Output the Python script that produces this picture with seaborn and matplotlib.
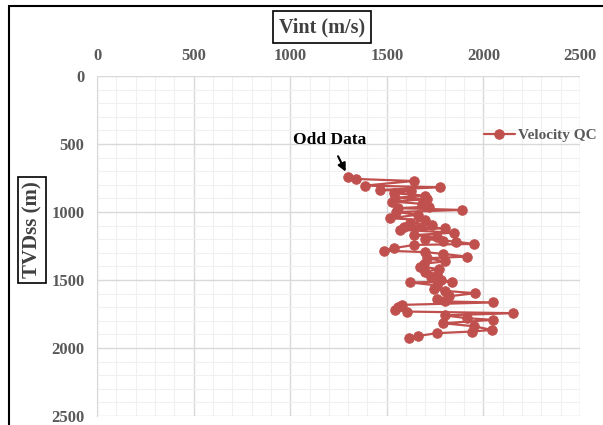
import matplotlib
matplotlib.use("Agg")
import matplotlib.pyplot as plt
import seaborn as sns
import pandas as pd
from matplotlib.patches import Rectangle
from matplotlib.ticker import MultipleLocator

depth = [740, 757, 772, 806, 818, 838, 845, 862, 880, 895, 906, 923, 940, 960, 972,
         985, 1000, 1020, 1046, 1060, 1083, 1095, 1110, 1120, 1131, 1152, 1170, 1185,
         1198, 1210, 1218, 1235, 1242, 1266, 1284, 1295, 1308, 1328, 1340, 1363, 1380,
         1401, 1420, 1440, 1460, 1480, 1500, 1512, 1518, 1540, 1568, 1580, 1597, 1620,
         1640, 1658, 1665, 1683, 1700, 1720, 1732, 1744, 1760, 1781, 1793, 1818, 1840,
         1867, 1879, 1891, 1911, 1928]
vint = [1300, 1340, 1640, 1385, 1777, 1463, 1624, 1535, 1700, 1545, 1708, 1526, 1680,
        1716, 1560, 1889, 1550, 1660, 1518, 1700, 1621, 1733, 1590, 1803, 1570, 1846,
        1640, 1760, 1699, 1790, 1857, 1950, 1642, 1535, 1483, 1700, 1790, 1915, 1708,
        1803, 1690, 1673, 1770, 1700, 1760, 1730, 1780, 1838, 1621, 1760, 1744, 1800,
        1958, 1820, 1760, 1803, 2051, 1578, 1560, 1544, 1604, 2155, 1800, 1915, 2051,
        1793, 1950, 2044, 1940, 1759, 1664, 1616]

series_name = "Velocity QC"
x_title = "Vint (m/s)"
y_title = "TVDss (m)"
annot = "Odd Data"

df = pd.DataFrame({"Vint": vint, "TVDss": depth})

sns.set_style("white")
plt.rcParams["font.family"] = ["Liberation Serif", "DejaVu Serif"]

W, H = 603, 425
fig = plt.figure(figsize=(W / 100, H / 100), dpi=100)
ax = fig.add_axes([97 / W, 1 - 416 / H, (580 - 97) / W, (416 - 76) / H])

red = "#C0504D"
sns.lineplot(data=df, x="Vint", y="TVDss", sort=False, estimator=None, ax=ax,
             color=red, marker="o", markersize=6.8, markeredgecolor=red,
             linewidth=1.6, label=series_name, legend=False)

ax.set_xlim(0, 2500)
ax.set_ylim(2500, 0)
ax.xaxis.set_major_locator(MultipleLocator(500))
ax.xaxis.set_minor_locator(MultipleLocator(100))
ax.yaxis.set_major_locator(MultipleLocator(500))
ax.yaxis.set_minor_locator(MultipleLocator(100))
ax.grid(which="major", color="#d9d9d9", linewidth=1.0)
ax.grid(which="minor", color="#f0f0f0", linewidth=0.8)
ax.set_axisbelow(True)
ax.xaxis.tick_top()
for s in ["top", "right", "bottom"]:
    ax.spines[s].set_visible(False)
ax.spines["left"].set_color("#d9d9d9")
ax.tick_params(axis="x", which="both", length=0, pad=9)
ax.tick_params(axis="y", which="major", length=5, color="#d9d9d9", pad=4)
ax.tick_params(axis="y", which="minor", length=0)
for lab in ax.get_xticklabels() + ax.get_yticklabels():
    lab.set_fontweight("bold")
    lab.set_color("#595959")
    lab.set_fontsize(12)
ax.set_xlabel("")
ax.set_ylabel("")

fig.text(322 / W, 1 - 27 / H, x_title, ha="center", va="center", fontsize=14.5,
         fontweight="bold", color="#404040",
         bbox=dict(boxstyle="square,pad=0.3", fc="white", ec="black", lw=1.2))
fig.text(32 / W, 1 - 230 / H, y_title, ha="center", va="center", fontsize=15,
         fontweight="bold", color="#404040", rotation=90,
         bbox=dict(boxstyle="square,pad=0.2", fc="white", ec="black", lw=1.2))

ax.annotate(annot, xy=(vint[0], depth[0]), xytext=(330 / W, 1 - 140 / H),
            textcoords="figure fraction", ha="center", va="center",
            fontsize=12.5, fontweight="bold", color="black",
            arrowprops=dict(arrowstyle="-|>", color="black", lw=1.5,
                            shrinkA=4, shrinkB=4, mutation_scale=12))

handles, labels = ax.get_legend_handles_labels()
leg = ax.legend(handles, labels, loc="center left", bbox_to_anchor=(484 / W, 1 - 135 / H),
                bbox_transform=fig.transFigure, frameon=False, handlelength=2.0,
                handletextpad=0.2, borderpad=0, borderaxespad=0,
                prop={"weight": "bold", "size": 11})
for t in leg.get_texts():
    t.set_color("#595959")

fig.patches.append(Rectangle((9 / W, -0.05), 1.2, 1 - 6 / H + 0.05, transform=fig.transFigure,
                             fill=False, ec="black", lw=1.5, zorder=10))

fig.savefig("out.png", dpi=100)
